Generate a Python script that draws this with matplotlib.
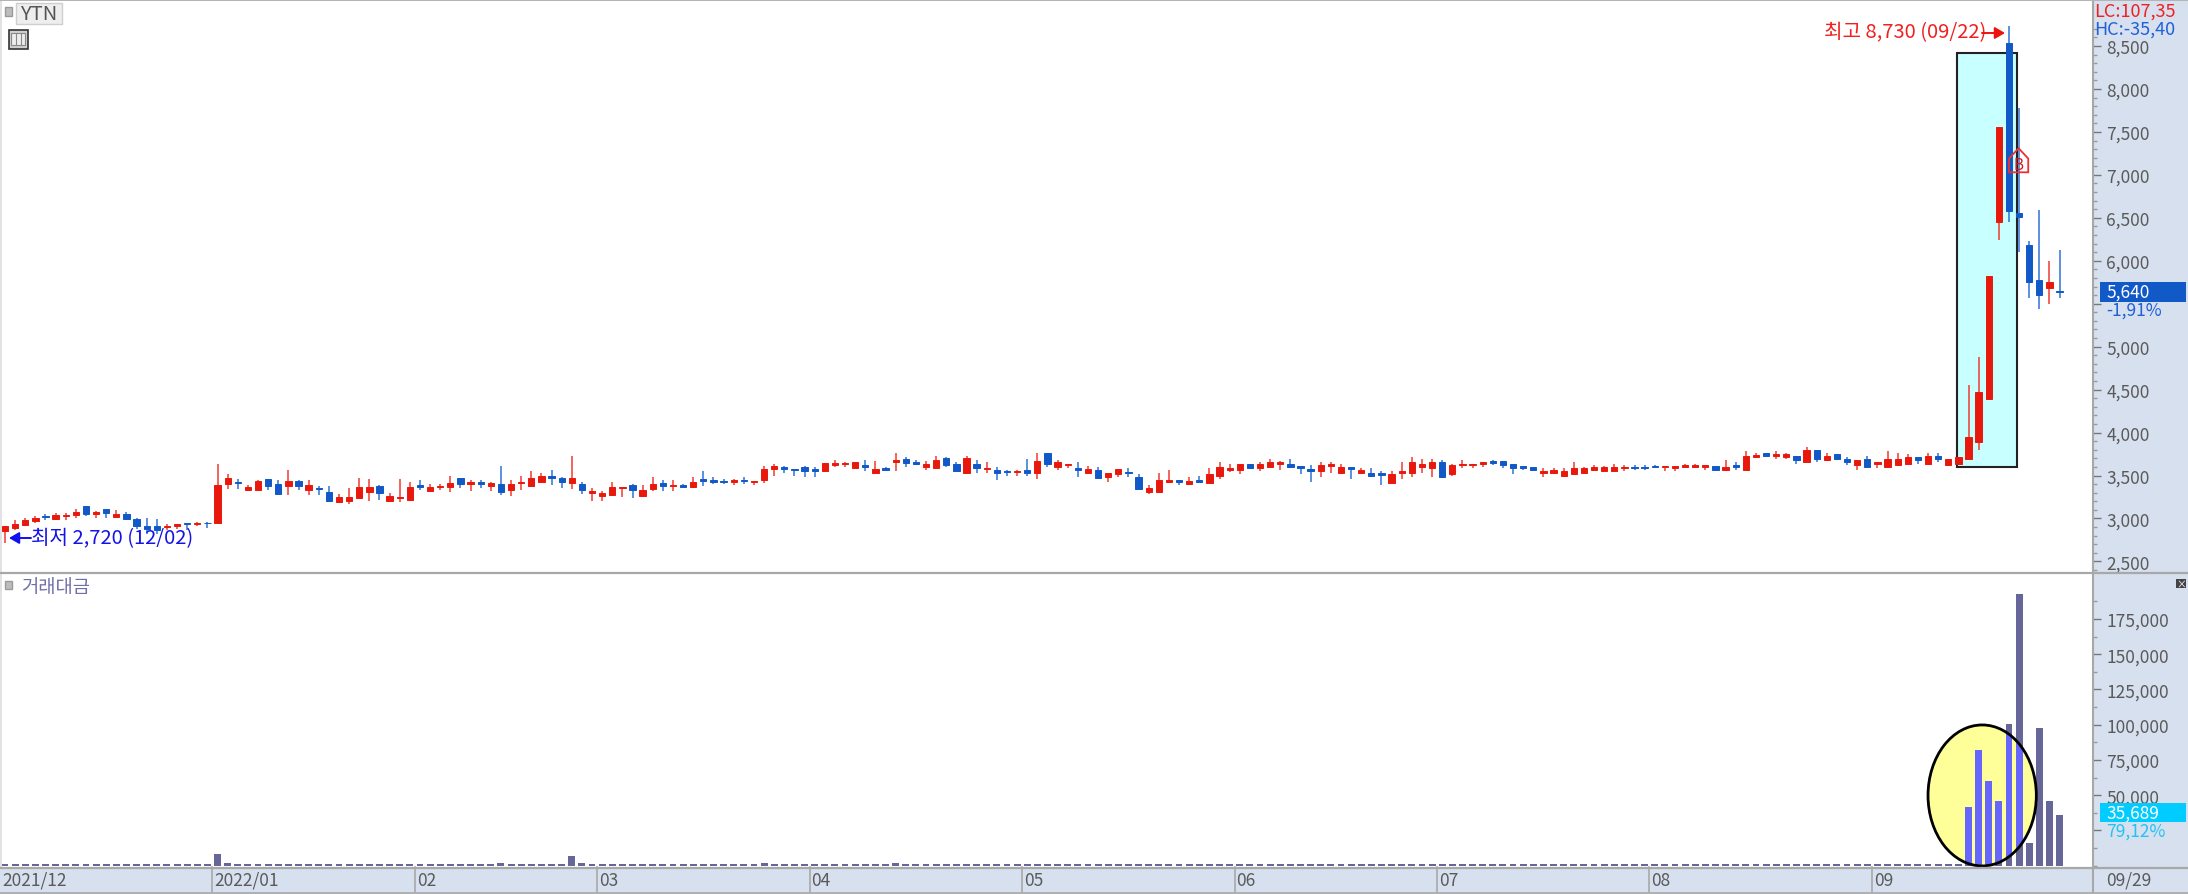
import matplotlib
matplotlib.use("Agg")
import matplotlib.pyplot as plt
from matplotlib.patches import Ellipse, Polygon, Rectangle
from matplotlib.ticker import FixedLocator, FuncFormatter
import numpy as np

plt.rcParams['font.family'] = ['Noto Sans CJK KR', 'DejaVu Sans']

# daily candles, 2021/12/02 .. 2022/09/29
opens = [2860, 2895, 2925, 2975, 3025, 2995, 3025, 3040, 3140, 3050,
         3110, 3015, 3055, 2995, 2910, 2915, 2900, 2910, 2945, 2930,
         2950, 2945, 3400, 3430, 3330, 3330, 3455, 3405, 3380, 3435,
         3330, 3360, 3305, 3195, 3205, 3240, 3310, 3375, 3205, 3240,
         3220, 3390, 3325, 3365, 3365, 3470, 3405, 3425, 3375, 3400,
         3330, 3415, 3380, 3430, 3495, 3470, 3415, 3405, 3300, 3260,
         3275, 3350, 3390, 3260, 3345, 3410, 3380, 3385, 3365, 3460,
         3445, 3440, 3430, 3450, 3430, 3450, 3575, 3605, 3580, 3600,
         3580, 3555, 3625, 3630, 3590, 3620, 3535, 3585, 3660, 3690,
         3655, 3605, 3590, 3705, 3640, 3525, 3640, 3575, 3565, 3555,
         3540, 3565, 3535, 3760, 3605, 3625, 3585, 3535, 3565, 3480,
         3520, 3545, 3480, 3310, 3310, 3430, 3445, 3400, 3445, 3415,
         3500, 3570, 3570, 3635, 3585, 3605, 3630, 3635, 3615, 3580,
         3550, 3615, 3535, 3605, 3535, 3530, 3535, 3415, 3535, 3535,
         3605, 3585, 3655, 3515, 3625, 3625, 3640, 3670, 3670, 3640,
         3615, 3600, 3535, 3535, 3500, 3515, 3530, 3570, 3550, 3550,
         3585, 3605, 3605, 3615, 3605, 3585, 3605, 3605, 3605, 3615,
         3570, 3620, 3570, 3710, 3760, 3725, 3710, 3725, 3655, 3795,
         3675, 3745, 3690, 3620, 3690, 3640, 3605, 3620, 3640, 3710,
         3640, 3725, 3620, 3640, 3690, 3890, 4390, 6455, 8530, 6555,
         6185, 5780, 5685, 5650]
highs = [2915, 2985, 3010, 3025, 3055, 3065, 3065, 3105, 3150, 3085,
         3110, 3095, 3080, 3010, 3010, 2995, 2930, 2930, 2945, 2955,
         2955, 3640, 3515, 3460, 3390, 3445, 3460, 3445, 3570, 3445,
         3445, 3380, 3375, 3280, 3360, 3475, 3460, 3390, 3295, 3460,
         3430, 3445, 3405, 3400, 3500, 3475, 3445, 3445, 3430, 3615,
         3445, 3500, 3550, 3535, 3570, 3485, 3725, 3430, 3355, 3315,
         3430, 3370, 3400, 3390, 3480, 3450, 3450, 3405, 3480, 3550,
         3480, 3465, 3465, 3480, 3440, 3615, 3640, 3615, 3580, 3615,
         3595, 3650, 3685, 3655, 3655, 3675, 3670, 3605, 3760, 3710,
         3675, 3670, 3725, 3710, 3655, 3725, 3685, 3655, 3595, 3570,
         3570, 3690, 3760, 3760, 3675, 3640, 3655, 3615, 3605, 3530,
         3580, 3585, 3515, 3390, 3535, 3570, 3445, 3480, 3500, 3585,
         3655, 3640, 3640, 3640, 3655, 3690, 3670, 3690, 3615, 3620,
         3655, 3655, 3640, 3605, 3585, 3585, 3550, 3550, 3655, 3710,
         3690, 3690, 3675, 3640, 3675, 3640, 3655, 3675, 3670, 3640,
         3615, 3600, 3585, 3585, 3585, 3655, 3605, 3620, 3615, 3640,
         3620, 3620, 3620, 3620, 3615, 3615, 3640, 3640, 3620, 3615,
         3675, 3655, 3780, 3760, 3760, 3780, 3760, 3725, 3830, 3795,
         3760, 3745, 3710, 3675, 3725, 3655, 3780, 3760, 3745, 3710,
         3760, 3760, 3690, 3710, 4555, 4875, 5825, 7560, 8730, 7780,
         6235, 6590, 5995, 6130]
lows = [2720, 2870, 2910, 2945, 2985, 2980, 2985, 3010, 3025, 3010,
        3010, 3010, 2980, 2880, 2820, 2820, 2870, 2880, 2870, 2910,
        2885, 2945, 3345, 3345, 3330, 3330, 3330, 3275, 3275, 3330,
        3275, 3275, 3205, 3190, 3165, 3235, 3205, 3220, 3205, 3190,
        3205, 3330, 3305, 3335, 3305, 3360, 3320, 3360, 3320, 3275,
        3265, 3335, 3370, 3425, 3395, 3360, 3340, 3290, 3200, 3200,
        3260, 3250, 3235, 3250, 3320, 3320, 3320, 3360, 3360, 3375,
        3400, 3400, 3390, 3405, 3390, 3415, 3500, 3535, 3500, 3480,
        3480, 3550, 3605, 3605, 3585, 3555, 3535, 3550, 3555, 3605,
        3620, 3570, 3585, 3605, 3550, 3520, 3535, 3535, 3445, 3500,
        3500, 3500, 3465, 3605, 3570, 3585, 3480, 3530, 3465, 3430,
        3480, 3480, 3340, 3290, 3310, 3415, 3395, 3395, 3410, 3410,
        3465, 3545, 3515, 3575, 3550, 3585, 3570, 3585, 3515, 3430,
        3480, 3530, 3530, 3460, 3515, 3500, 3395, 3410, 3460, 3480,
        3530, 3480, 3475, 3500, 3585, 3585, 3605, 3620, 3585, 3515,
        3570, 3550, 3480, 3530, 3500, 3515, 3530, 3550, 3550, 3550,
        3550, 3570, 3570, 3585, 3550, 3550, 3585, 3585, 3570, 3570,
        3550, 3570, 3570, 3710, 3710, 3690, 3690, 3640, 3655, 3655,
        3675, 3675, 3620, 3570, 3605, 3585, 3605, 3620, 3640, 3640,
        3640, 3655, 3620, 3640, 3690, 3795, 4390, 6245, 6455, 6105,
        5565, 5440, 5495, 5565]
closes = [2915, 2935, 2985, 3005, 3015, 3040, 3040, 3070, 3050, 3070,
          3065, 3055, 2995, 2910, 2880, 2870, 2915, 2930, 2930, 2945,
          2945, 3390, 3475, 3415, 3370, 3435, 3375, 3290, 3440, 3375,
          3390, 3345, 3205, 3250, 3250, 3365, 3365, 3295, 3265, 3255,
          3365, 3365, 3370, 3375, 3410, 3400, 3430, 3400, 3410, 3310,
          3405, 3430, 3470, 3495, 3470, 3430, 3475, 3330, 3325, 3295,
          3365, 3370, 3330, 3335, 3405, 3380, 3390, 3365, 3420, 3435,
          3430, 3430, 3445, 3435, 3440, 3580, 3615, 3575, 3570, 3555,
          3555, 3645, 3650, 3650, 3655, 3605, 3575, 3570, 3685, 3645,
          3640, 3640, 3685, 3625, 3555, 3705, 3590, 3590, 3525, 3545,
          3555, 3535, 3670, 3640, 3655, 3640, 3570, 3580, 3475, 3530,
          3580, 3530, 3345, 3355, 3445, 3445, 3430, 3440, 3430, 3515,
          3600, 3585, 3635, 3585, 3640, 3655, 3655, 3605, 3590, 3555,
          3620, 3640, 3600, 3580, 3570, 3500, 3510, 3515, 3555, 3655,
          3635, 3655, 3480, 3620, 3640, 3640, 3655, 3645, 3620, 3585,
          3590, 3570, 3550, 3570, 3550, 3585, 3585, 3605, 3600, 3605,
          3605, 3585, 3585, 3605, 3615, 3615, 3620, 3620, 3620, 3570,
          3600, 3605, 3725, 3740, 3730, 3745, 3745, 3675, 3795, 3690,
          3725, 3690, 3655, 3675, 3605, 3655, 3690, 3690, 3710, 3675,
          3725, 3690, 3690, 3710, 3950, 4470, 5825, 7560, 6580, 6510,
          5755, 5600, 5750, 5640]
# trading value, base level plus the few days that stand out
value_base = 1300
value_spikes = {21: 8000, 22: 1800, 49: 2000, 56: 6700, 57: 2000, 75: 2000, 88: 2000,
                194: 41700, 195: 82100, 196: 60000, 197: 45900, 198: 100700,
                199: 192800, 200: 15950, 201: 97400, 202: 45900, 203: 35689}

month_pos = [-0.5, 20.45, 40.5, 58.5, 79.5, 100.5, 121.5, 141.5, 162.5, 184.5]
month_labels = ['2021/12', '2022/01', '02', '03', '04', '05', '06', '07', '08', '09']
price_ticks = [2500, 3000, 3500, 4000, 4500, 5000, 5500, 6000, 6500, 7000, 7500, 8000, 8500]
price_hidden = [5500]   # covered by the last-price box in the reference
value_ticks = [25000, 50000, 75000, 100000, 125000, 150000, 175000]
value_hidden = [25000]

W, H = 2188, 895
PANEL = '#D6E0EE'
RED, BLUE = '#E8190C', '#1259C8'
WICK_R, WICK_B = '#F03A30', '#2F72D8'
TXT = '#5A5A5A'
LINE = '#A8A8A8'
FS = 12.5

o = np.array(opens)
h = np.array(highs)
l = np.array(lows)
c = np.array(closes)
x = np.arange(len(o))
up = c >= o
vol = np.full(len(o), value_base, dtype=float)
for k, v in value_spikes.items():
    vol[k] = v

fig = plt.figure(figsize=(W / 100, H / 100), dpi=100, facecolor=PANEL)


def box(x0, y0, x1, y1):
    return [x0 / W, 1 - y1 / H, (x1 - x0) / W, (y1 - y0) / H]


XLIM = (-0.494, 206.3)
ax = fig.add_axes(box(0, 2, 2093, 573))
ax.set_xlim(*XLIM)
ax.set_ylim(2377, 9024)
ax2 = fig.add_axes(box(0, 573, 2093, 868))
ax2.set_xlim(*XLIM)
ax2.set_ylim(-920, 208300)

# highlight box goes under the candles
ax.add_patch(Rectangle((192.9, 3599), 5.9, 4819, facecolor='#C8FFFF', edgecolor='#222222', lw=1.5, zorder=1))

ax.vlines(x[up], l[up], h[up], color=WICK_R, lw=1.1, zorder=2)
ax.vlines(x[~up], l[~up], h[~up], color=WICK_B, lw=1.1, zorder=2)
ax.bar(x[up], (c - o)[up], bottom=o[up], width=0.62, color=RED, edgecolor=RED, lw=0.7, zorder=3)
ax.bar(x[~up], (c - o)[~up], bottom=o[~up], width=0.62, color=BLUE, edgecolor=BLUE, lw=0.7, zorder=3)

# B marker
ax.add_patch(Polygon([(198.0, 7030), (198.0, 7190), (198.95, 7310), (199.9, 7190), (199.9, 7030)],
                     closed=True, facecolor='none', edgecolor='#F03030', lw=1.3, zorder=4))
ax.text(198.95, 7115, 'B', color='#D81818', fontsize=11, ha='center', va='center', zorder=5)

# trading value pane
ax2.bar(x, vol, width=0.68, color='#666699', zorder=2)
ell = Ellipse((195.35, 49830), 10.7, 100000, facecolor='#FFFF99', edgecolor='none', zorder=1)
ax2.add_patch(ell)
ell_bars = ax2.bar(x, vol, width=0.68, color='#6666FF', zorder=3)
for b in ell_bars:
    b.set_clip_path(ell)
ax2.add_patch(Ellipse((195.35, 49830), 10.7, 100000, facecolor='none', edgecolor='black', lw=2, zorder=4))

# axes frame and ticks
for a in (ax, ax2):
    a.set_xticks([])
    a.yaxis.tick_right()
    a.tick_params(axis='y', which='major', length=6, width=1, color='#777777', labelcolor=TXT,
                  labelsize=FS, pad=3.5)
    a.tick_params(axis='y', which='minor', length=3, width=1, color='#999999')
    for s in a.spines.values():
        s.set_visible(False)
    a.spines['right'].set_visible(True)
    a.spines['right'].set_color(LINE)
    a.spines['right'].set_linewidth(1.5)

ax.yaxis.set_major_locator(FixedLocator(price_ticks))
ax.yaxis.set_minor_locator(FixedLocator(np.arange(2400, 8701, 100)))
ax.yaxis.set_major_formatter(FuncFormatter(lambda v, pos: '' if v in price_hidden else f'{int(v):,}'))
ax2.yaxis.set_major_locator(FixedLocator(value_ticks))
ax2.yaxis.set_minor_locator(FixedLocator(np.arange(0, 190000, 12500)))
ax2.yaxis.set_major_formatter(FuncFormatter(lambda v, pos: '' if v in value_hidden else f'{int(v):,}'))

# overlay in pixel coordinates for the window chrome and labels
ov = fig.add_axes([0, 0, 1, 1], zorder=10)
ov.set_xlim(0, W)
ov.set_ylim(H, 0)
ov.axis('off')
ov.patch.set_alpha(0)

ov.add_patch(Rectangle((0, 0), W, 2, color='#B4B4B4', lw=0))
ov.add_patch(Rectangle((0, 2), 2, 866, color='#E2E2E2', lw=0))
ov.plot([0, W], [573.5, 573.5], color=LINE, lw=1.6)
ov.plot([0, W], [868.5, 868.5], color=LINE, lw=1.6)
ov.plot([0, W], [893.5, 893.5], color=LINE, lw=1.2)
ov.plot([2093, 2093], [868, 893], color=LINE, lw=1.5)

# bottom date strip
to_px = lambda i: 5 + 10.12 * i
for pos, lab in zip(month_pos, month_labels):
    px = to_px(pos)
    if pos > 0:
        ov.plot([px, px], [868, 893], color=LINE, lw=1.2)
    ov.text(max(px, 0) + 2, 881, lab, color=TXT, fontsize=FS, ha='left', va='center')
ov.text(2106, 881, '09/29', color=TXT, fontsize=FS, ha='left', va='center')

# top-left name tag and icons
ov.add_patch(Rectangle((5, 8), 7, 9, facecolor='#BDBDBD', edgecolor='#9A9A9A', lw=1))
ov.add_patch(Rectangle((15.5, 3.5), 46, 21, facecolor='#EEEEEE', edgecolor='#CFCFCF', lw=1))
ov.text(38.5, 14, 'YTN', color='#555555', fontsize=14.5, ha='center', va='center')
ov.add_patch(Rectangle((8.5, 30.5), 19, 19, facecolor='#D0D0D0', edgecolor='#333333', lw=1.2))
ov.add_patch(Rectangle((11, 34), 14, 12, facecolor='#EDEDED', edgecolor='#888888', lw=0.8))
ov.plot([15.5, 15.5], [34, 46], color='#888888', lw=0.8)
ov.plot([20.5, 20.5], [34, 46], color='#888888', lw=0.8)

# value pane title and close button
ov.add_patch(Rectangle((5, 582), 7, 8, facecolor='#BDBDBD', edgecolor='#9A9A9A', lw=1))
ov.text(21, 588, '거래대금', color='#7070A8', fontsize=13.5, ha='left', va='center')
ov.add_patch(Rectangle((2176, 580), 10, 9, facecolor='#444444', lw=0))
ov.text(2181, 584.5, '×', color='white', fontsize=7, ha='center', va='center')

# right panel readouts
ov.text(2094, 12, 'LC:107,35', color='#F02020', fontsize=13, ha='left', va='center')
ov.text(2094, 30, 'HC:-35,40', color='#2060D8', fontsize=13, ha='left', va='center')
ov.add_patch(Rectangle((2100, 283), 86, 20, color=BLUE, lw=0))
ov.text(2106, 293, '5,640', color='white', fontsize=FS, ha='left', va='center')
ov.text(2106, 311, '-1,91%', color='#2060D8', fontsize=FS, ha='left', va='center')
ov.add_patch(Rectangle((2100, 804), 86, 19, color='#00CCFF', lw=0))
ov.text(2106, 813.5, '35,689', color='white', fontsize=FS, ha='left', va='center')
ov.text(2106, 832, '79,12%', color='#22C4F4', fontsize=FS, ha='left', va='center')

# high / low callouts
ov.text(1824, 33, '최고 8,730 (09/22)', color='#F02020', fontsize=14.5, ha='left', va='center')
ov.annotate('', xy=(2005, 34), xytext=(1982, 34),
            arrowprops=dict(arrowstyle='-|>,head_width=0.35,head_length=0.6', color='#F01010', lw=1.4,
                            shrinkA=0, shrinkB=0))
ov.text(31, 539, '최저 2,720 (12/02)', color='#1414E8', fontsize=14.5, ha='left', va='center')
ov.annotate('', xy=(9, 539), xytext=(31, 539),
            arrowprops=dict(arrowstyle='-|>,head_width=0.35,head_length=0.6', color='#1010F0', lw=1.4,
                            shrinkA=0, shrinkB=0))

fig.savefig('out.png', dpi=100, facecolor=fig.get_facecolor())
